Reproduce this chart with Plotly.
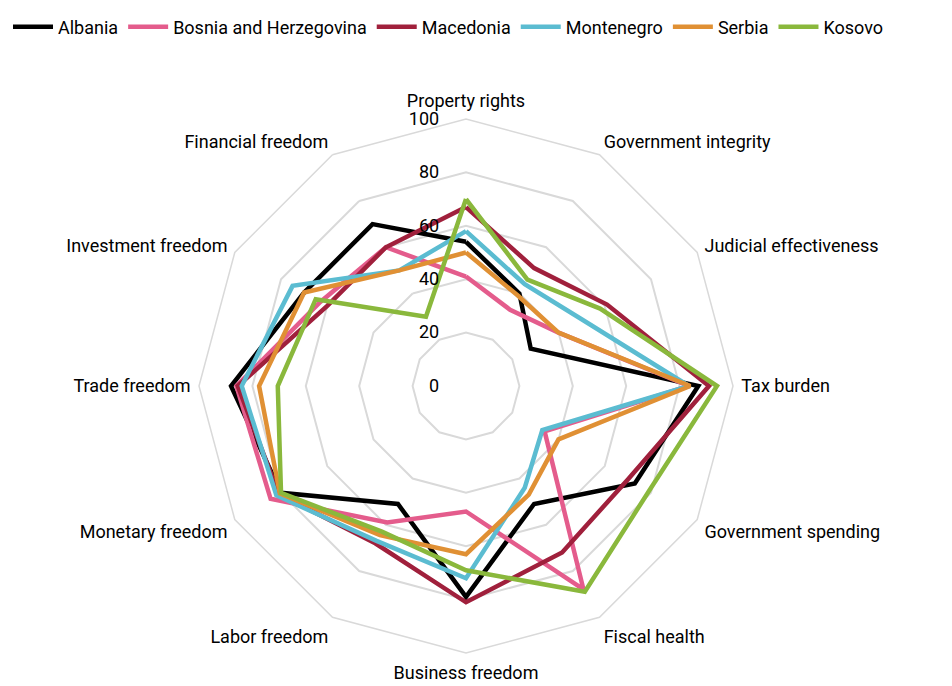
import plotly.graph_objects as go

categories = ["Property rights", "Government integrity", "Judicial effectiveness",
              "Tax burden", "Government spending", "Fiscal health",
              "Business freedom", "Labor freedom", "Monetary freedom",
              "Trade freedom", "Investment freedom", "Financial freedom"]

albania = [54, 40, 28, 87, 73, 51, 79, 51, 80, 88, 70, 70]
bosnia = [41, 33, 40, 83.5, 34, 88, 47, 59, 84.5, 86, 63, 60]
macedonia = [67, 51, 61, 91, 70, 72, 81, 68, 81, 85.5, 60, 60]
montenegro = [58, 44, 50, 83.5, 33, 44, 72, 67, 82, 84, 75, 50]
serbia = [50, 39, 40, 84, 40, 47, 63, 64.5, 80.5, 77.5, 70, 50]
kosovo = [70, 46, 58, 94, 79, 89, 69, 63, 80, 70.5, 65, 30]

series = [
    ("Albania", albania, "#000000"),
    ("Bosnia and Herzegovina", bosnia, "#E45C8C"),
    ("Macedonia", macedonia, "#A0203C"),
    ("Montenegro", montenegro, "#5BBCD1"),
    ("Serbia", serbia, "#E09034"),
    ("Kosovo", kosovo, "#8AB83C"),
]

fig = go.Figure()
for name, vals, col in series:
    fig.add_trace(go.Scatterpolar(
        r=vals + vals[:1],
        theta=categories + categories[:1],
        mode="lines",
        name=name,
        line=dict(color=col, width=4.5),
    ))

fig.update_layout(
    width=952, height=686,
    paper_bgcolor="white",
    font=dict(family="Roboto", size=18, color="#000000"),
    margin=dict(l=0, r=0, t=0, b=0),
    showlegend=True,
    legend=dict(orientation="h", x=0, y=1 - 19 / 686, xanchor="left", yanchor="middle",
                font=dict(size=18), itemwidth=40, tracegroupgap=0),
    polar=dict(
        domain=dict(x=[191 / 952, 725 / 952], y=[41 / 686, 575 / 686]),
        gridshape="linear",
        bgcolor="white",
        radialaxis=dict(range=[0, 100], tickvals=[0, 20, 40, 60, 80, 100],
                        angle=90, tickangle=90, showline=False,
                        gridcolor="#d9d9d9", gridwidth=1.5,
                        ticks="outside", ticklen=20, tickcolor="rgba(0,0,0,0)",
                        side="counterclockwise",
                        tickfont=dict(size=18)),
        angularaxis=dict(rotation=90, direction="clockwise", showgrid=False,
                         showline=True, linecolor="#d9d9d9", linewidth=1.5,
                         ticks="outside", ticklen=4, tickcolor="rgba(0,0,0,0)",
                         tickfont=dict(size=18)),
    ),
)

fig.write_html("out.html")
